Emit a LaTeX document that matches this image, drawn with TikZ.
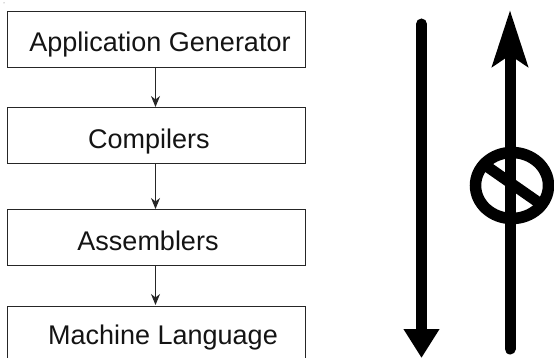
\documentclass[tikz,border=0pt]{standalone}
\usepackage{fontspec}
\setmainfont{Liberation Sans}
\usetikzlibrary{arrows.meta}
\tikzset{
  box/.style={draw=black!85,line width=0.9pt,fill=white,minimum width=298.5pt,minimum height=55.5pt,inner sep=0pt,anchor=north west},
  lab/.style={font=\fontsize{27}{31}\selectfont,anchor=base,inner sep=0pt,text=black!92},
  flow/.style={draw=black!85,line width=0.9pt,-{Stealth[length=11pt,width=9pt,inset=3.5pt]},shorten >=0.5pt},
  bigline/.style={line width=11pt,line cap=round},
}
\begin{document}
\begin{tikzpicture}[x=1pt,y=-1pt]
\useasboundingbox (0,0) rectangle (554,358);
\fill[black!60] (4,3) circle (0.5pt);
\node[box] (a) at (6.5,11.5) {};
\node[box] (c) at (6.5,107.5) {};
\node[box] (s) at (6.5,209.5) {};
\node[box] (m) at (6.5,305.5) {};
\node[lab] (ta) at (160,51.7) {Application Generator};
\node[lab] (tc) at (149,149) {Compilers};
\node[lab] (ts) at (148,250) {Assemblers};
\node[lab] (tm) at (163,344.7) {Machine Language};
\draw[flow] (a.south -| 155.5,0) -- (c.north -| 155.5,0);
\draw[flow] (c.south -| 155.5,0) -- (s.north -| 155.5,0);
\draw[flow] (s.south -| 155.5,0) -- (m.north -| 155.5,0);
\coordinate (lt) at (421.5,24);
\coordinate (lb) at (421.5,358);
\coordinate (rb) at (510,349);
\coordinate (rt) at (510,10);
\draw[bigline,-{Triangle[length=29pt,width=34pt]}] (lt) -- (lb);
\draw[bigline,-{Stealth[length=56pt,width=35pt,inset=11pt]}] (rb) -- (rt);
\coordinate (nc) at (512,185.5);
\draw[line width=11.5pt] (nc) ellipse [x radius=36.5pt,y radius=33pt];
\coordinate (n1) at (486,165.8);
\coordinate (n2) at (540,203.5);
\draw[line width=11pt] (n1) -- (n2);
\end{tikzpicture}
\end{document}
